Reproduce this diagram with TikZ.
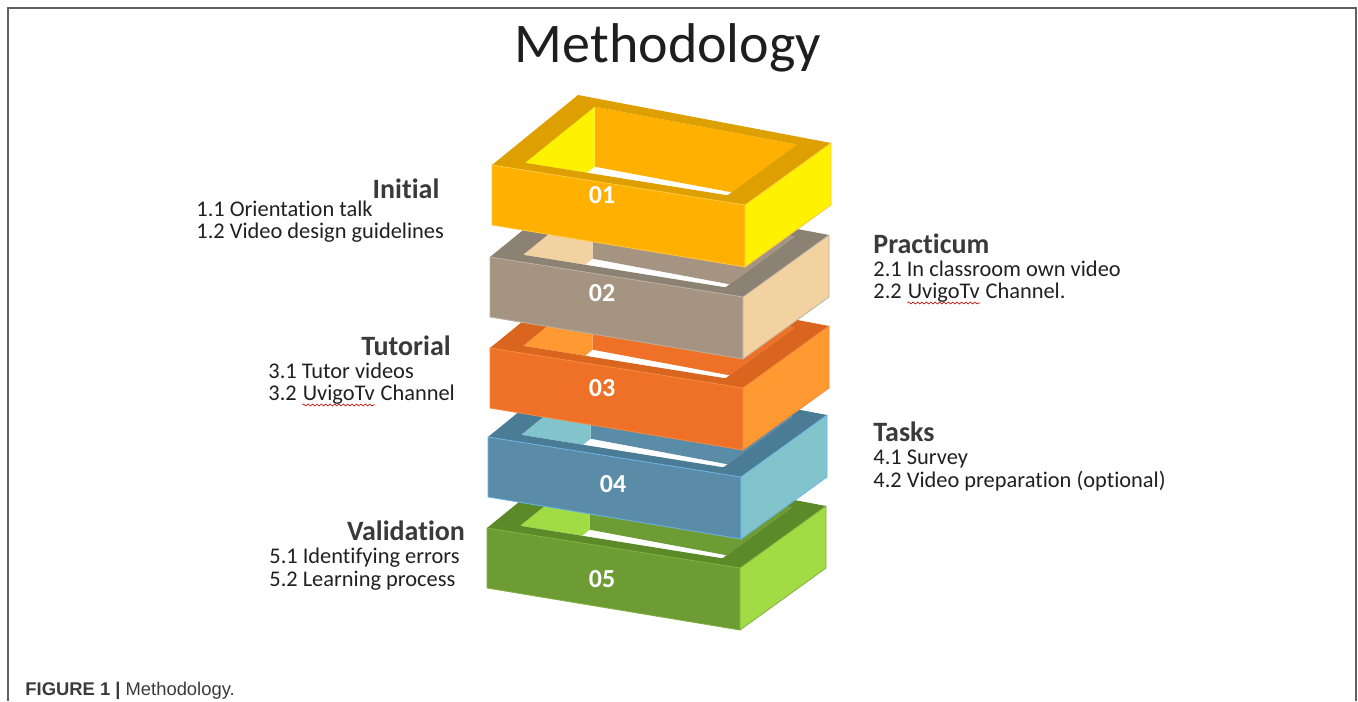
\documentclass[tikz,border=0pt]{standalone}
\usepackage{fontspec}
\setmainfont{Carlito}[Ligatures=NoCommon]
\newfontfamily\capfont{Liberation Sans}
\usetikzlibrary{decorations.pathmorphing}

\definecolor{framegray}{HTML}{606060}
\definecolor{titlegray}{HTML}{1E1E1E}
\definecolor{headgray}{HTML}{3A3A3A}
\definecolor{itemgray}{HTML}{202020}
\definecolor{boxfront1}{HTML}{FFB000}
\definecolor{boxside1}{HTML}{FFF200}
\definecolor{boxrim1}{HTML}{DDA000}
\definecolor{boxedge1}{HTML}{FFC840}
\definecolor{boxfront2}{HTML}{A69482}
\definecolor{boxside2}{HTML}{F2D2A0}
\definecolor{boxrim2}{HTML}{8C8274}
\definecolor{boxedge2}{HTML}{BDB0A0}
\definecolor{boxfront3}{HTML}{EE7127}
\definecolor{boxside3}{HTML}{FF9A33}
\definecolor{boxrim3}{HTML}{D9651E}
\definecolor{boxedge3}{HTML}{F58A40}
\definecolor{boxfront4}{HTML}{5A8CA8}
\definecolor{boxside4}{HTML}{82C4CC}
\definecolor{boxrim4}{HTML}{4A7C96}
\definecolor{boxedge4}{HTML}{6AB4E8}
\definecolor{boxfront5}{HTML}{6E9C34}
\definecolor{boxside5}{HTML}{A2DC44}
\definecolor{boxrim5}{HTML}{5C8A28}
\definecolor{boxedge5}{HTML}{80B040}

\begin{document}
\begin{tikzpicture}[x=0.5pt, y=-0.5pt,
  head/.style={font=\bfseries\fontsize{14}{16}\selectfont, text=headgray, inner sep=0pt, anchor=base},
  item/.style={font=\fontsize{11.2}{13}\selectfont, text=itemgray, inner sep=0pt, anchor=base west},
  num/.style={font=\bfseries\fontsize{13}{15}\selectfont, text=white, inner sep=0pt},
  squiggle/.style={draw=red!75!black, line width=0.3pt, decorate, decoration={snake, amplitude=0.5pt, segment length=2.2pt}}]
\useasboundingbox (0,0) rectangle (1358,701);
\draw[line width=1pt, framegray] (8,701) -- (8,8) -- (1356,8) -- (1356,701);
\node[font=\fontsize{28}{32}\selectfont, anchor=base, text=titlegray, inner sep=0pt] (title) at (668,63) {Methodology};

\foreach \n/\x/\y/\lx/\ly in {5/487/528/602/579, 4/488/437/613/484, 3/490/348/602/388, 2/490/257/602/293, 1/492/165/602/195}{
  \begin{scope}[shift={(\x,\y)}]
    \coordinate (fl) at (0,0);
    \coordinate (fr) at (253,40);
    \coordinate (br) at (339,-22);
    \coordinate (bl) at (86,-70);
    \coordinate (ifl) at (33,-2.2);
    \coordinate (ifr) at (235.4,30.3);
    \coordinate (ibr) at (305.1,-20.5);
    \coordinate (ibl) at (102.7,-58.3);
    \fill[white] (ifl) -- (ifr) -- (ibr) -- (ibl) -- cycle;
    \begin{scope}
      \clip (ifl) -- (ifr) -- (ibr) -- (ibl) -- cycle;
      \fill[boxfront\n] (ibl) -- (ibr) -- ++(0,60) -- ++(-202.4,-37.8) -- cycle;
      \fill[boxside\n] (ifl) -- (ibl) -- ++(0,60) -- ++(-69.7,56.1) -- cycle;
    \end{scope}
    \fill[boxrim\n, even odd rule] (fl) -- (fr) -- (br) -- (bl) -- cycle (ifl) -- (ifr) -- (ibr) -- (ibl) -- cycle;
    \filldraw[fill=boxfront\n, draw=boxedge\n, line width=0.4pt] (fl) -- (fr) -- ++(0,62) -- (0,60) -- cycle;
    \filldraw[fill=boxside\n, draw=boxedge\n, line width=0.4pt] (fr) -- (br) -- ++(0,62) -- (253,102) -- cycle;
  \end{scope}
  \node[num] (n\n) at (\lx,\ly) {0\n};
}

\node[head] (initial) at (406,198) {Initial};
\node[item] (i11) at (196,216) {1.1 Orientation talk};
\node[item] (i12) at (196,238) {1.2 Video design guidelines};

\node[head, anchor=base west] (practicum) at (873,253) {Practicum};
\node[item] (p21) at (873,276) {2.1 In classroom own video};
\node[item] (p22) at (873,298) {2.2};
\node[item] (p22u) at ([xshift=2.6pt]p22.base east) {UvigoTv};
\node[item] (p22c) at ([xshift=2.6pt]p22u.base east) {Channel.};
\draw[squiggle] ([yshift=-2.5pt]p22u.base west) -- ([yshift=-2.5pt]p22u.base east);

\node[head] (tutorial) at (406,355) {Tutorial};
\node[item] (t31) at (268,378) {3.1 Tutor videos};
\node[item] (t32) at (268,400) {3.2};
\node[item] (t32u) at ([xshift=2.6pt]t32.base east) {UvigoTv};
\node[item] (t32c) at ([xshift=2.6pt]t32u.base east) {Channel};
\draw[squiggle] ([yshift=-2.5pt]t32u.base west) -- ([yshift=-2.5pt]t32u.base east);

\node[head, anchor=base west] (tasks) at (873,441) {Tasks};
\node[item] (k41) at (873,464) {4.1 Survey};
\node[item] (k42) at (873,487) {4.2 Video preparation (optional)};

\node[head] (validation) at (406,540) {Validation};
\node[item] (v51) at (269,563) {5.1 Identifying errors};
\node[item] (v52) at (269,586) {5.2 Learning process};

\node[anchor=base west, inner sep=0pt, font=\capfont\fontsize{9.2}{11}\selectfont, text=headgray] (caption) at (25,695) {\textbf{FIGURE 1 |} Methodology.};
\end{tikzpicture}
\end{document}
